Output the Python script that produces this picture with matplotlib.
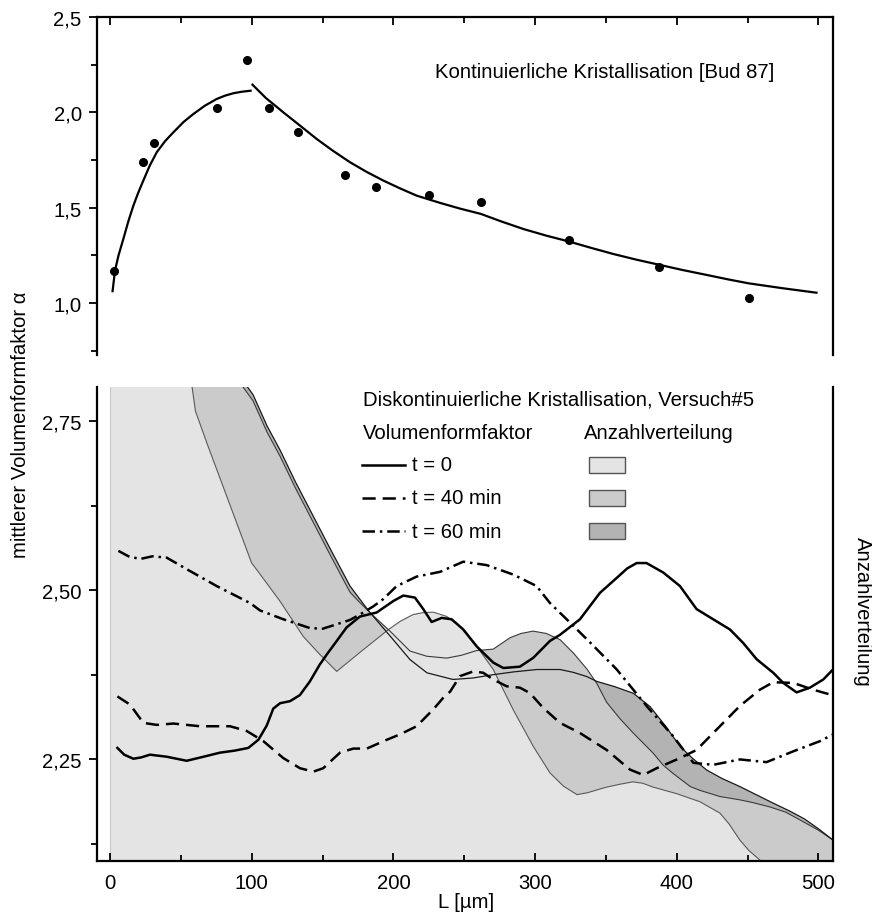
import matplotlib
matplotlib.use("Agg")
import matplotlib.pyplot as plt
from matplotlib.patches import Rectangle
from matplotlib.lines import Line2D
from matplotlib.ticker import FixedLocator, FuncFormatter

plt.rcParams['font.family'] = ['Liberation Sans', 'DejaVu Sans']
plt.rcParams['lines.scale_dashes'] = False

# ---------------- top panel data (continuous crystallisation) ----------------
pts_x = [3.1, 23, 31, 75.5, 96.9, 112, 132.9, 165.8, 187.5, 224.9, 261.8, 324.1, 387.2, 450.7]
pts_y = [1.166, 1.738, 1.838, 2.021, 2.276, 2.024, 1.895, 1.673, 1.610, 1.565, 1.531, 1.332, 1.191, 1.026]

fit1_x = [1.7, 3.5, 6, 9.4, 13, 16.5, 20, 23.5, 28, 33, 39, 44.7, 52, 58.8, 67, 75.3, 81, 87, 93, 100]
fit1_y = [1.056, 1.170, 1.25, 1.336, 1.43, 1.511, 1.58, 1.642, 1.72, 1.791, 1.85, 1.895, 1.95, 1.991,
          2.035, 2.070, 2.087, 2.100, 2.108, 2.114]

fit2_x = [100, 110, 122.3, 135, 145.9, 157, 169.4, 181, 192.9, 205, 216.4, 232.9, 247, 261.8, 276,
          291.7, 308, 324.1, 340, 355.2, 371, 387.2, 404, 421.1, 436, 450.7, 475, 499.4]
fit2_y = [2.149, 2.075, 2.000, 1.925, 1.860, 1.800, 1.738, 1.688, 1.642, 1.600, 1.563, 1.525, 1.495,
          1.467, 1.428, 1.388, 1.353, 1.322, 1.288, 1.257, 1.228, 1.201, 1.173, 1.147, 1.124, 1.103,
          1.077, 1.053]

# ---------------- bottom panel: Volumenformfaktor ----------------
t0_x = [5.2, 10, 16.5, 22, 28.2, 40, 54.1, 66, 77.6, 88, 97.6, 104.7, 110.6, 115.2, 120, 127, 134,
        141, 148, 153, 160, 167, 176.4, 188.2, 200, 207, 215.2, 221.1, 227, 234.1, 241.1, 249.3,
        258.8, 270.5, 277.6, 289.3, 298.7, 310.5, 317.6, 331.7, 345.8, 357.6, 365, 371.7, 378.7,
        390.5, 402.3, 414, 425.7, 437.5, 446.9, 456.4, 468.1, 475.2, 484.6, 494, 503.4, 510.4]
t0_y = [2.267, 2.257, 2.251, 2.253, 2.257, 2.254, 2.248, 2.254, 2.260, 2.263, 2.267, 2.279, 2.300,
        2.325, 2.333, 2.336, 2.345, 2.365, 2.390, 2.405, 2.425, 2.445, 2.461, 2.467, 2.484, 2.492,
        2.489, 2.472, 2.453, 2.459, 2.457, 2.442, 2.417, 2.393, 2.385, 2.387, 2.400, 2.425, 2.434,
        2.457, 2.496, 2.518, 2.532, 2.540, 2.540, 2.526, 2.506, 2.472, 2.457, 2.442, 2.422, 2.398,
        2.378, 2.363, 2.349, 2.356, 2.368, 2.383]

t40_x = [5.2, 14.1, 23.5, 32.9, 44.7, 63.5, 84.7, 96.5, 108.2, 122.3, 134.1, 143.5, 150.5, 162.3,
         171.7, 181.2, 195.3, 204.7, 216.4, 228.2, 236, 240, 247, 256.4, 263.4, 270.5, 280, 289.3,
         296.4, 305.8, 317.6, 331.7, 350.5, 367, 376.4, 385.8, 402.3, 414, 428.1, 444.6, 458.7,
         468.1, 482.3, 496.3, 508.1]
t40_y = [2.343, 2.331, 2.304, 2.301, 2.303, 2.299, 2.299, 2.292, 2.277, 2.252, 2.237, 2.232, 2.237,
         2.260, 2.266, 2.266, 2.279, 2.287, 2.299, 2.324, 2.343, 2.350, 2.373, 2.380, 2.378, 2.368,
         2.358, 2.356, 2.348, 2.326, 2.304, 2.289, 2.264, 2.235, 2.227, 2.237, 2.252, 2.264, 2.294,
         2.329, 2.353, 2.364, 2.363, 2.353, 2.346]

t60_x = [5.9, 13, 21.2, 30, 40, 54.1, 75.3, 98.8, 105.9, 122.3, 141.1, 150, 157.6, 169.4, 176.4,
         185.8, 193, 202.3, 216.4, 232.9, 249.3, 265.8, 284.6, 301.1, 310.5, 322.3, 339.2, 357.6,
         378.7, 397.6, 411.7, 425.7, 444.6, 463.4, 482.3, 501.1, 510.4]
t60_y = [2.558, 2.550, 2.546, 2.550, 2.548, 2.531, 2.506, 2.481, 2.470, 2.457, 2.444, 2.443, 2.448,
         2.456, 2.464, 2.476, 2.487, 2.506, 2.520, 2.527, 2.542, 2.537, 2.523, 2.506, 2.481, 2.457,
         2.422, 2.383, 2.329, 2.284, 2.245, 2.242, 2.250, 2.246, 2.262, 2.277, 2.287]

# ---------------- bottom panel: Anzahlverteilung (arbitrary units, 0..100 visible) ----------------
nA_x = [0, 10, 20, 30, 40, 50, 57.9, 60.3, 68.2, 82.3, 99.9, 105.9, 120, 136.3, 148, 160, 178, 196.4,
        205, 214, 221, 228.2, 237.6, 247, 258.8, 270.5, 284.6, 298.7, 310.5, 320, 329.6, 337, 343.7,
        350.7, 360, 369, 376, 383.2, 400, 416.4, 430.5, 437, 444.6, 451, 458.7, 470, 490, 510]
nA_y = [600, 400, 280, 200, 150, 118, 100, 94.9, 88.3, 77.0, 62.9, 60.5, 54.8, 47.4, 43.6, 40.0, 44.4,
        48.8, 50.6, 52.0, 52.4, 52.5, 51.6, 49.5, 45.3, 40.4, 31.9, 24.2, 18.6, 15.8, 14.0, 14.4, 15.0,
        15.6, 16.2, 16.7, 16.4, 15.6, 14.2, 12.5, 10.1, 7.8, 4.4, 2.2, 0.2, -5, -15, -25]

nB_x = [0, 30, 60, 80, 93.9, 100.9, 110.8, 120, 131, 143, 155, 169.4, 176.4, 183.5, 197.6, 211.7,
        223.5, 237.6, 248, 258.8, 270.5, 282.3, 290, 298.6, 308, 317.6, 327, 336.6, 343.5, 350.5,
        360, 369.3, 383.2, 390.5, 397.3, 409.6, 416.4, 430.5, 444.6, 454, 465.8, 477, 488, 500, 510.4]
nB_y = [500, 280, 165, 120, 100, 97.1, 90.5, 85.4, 78.6, 71.7, 64.8, 56.7, 54.5, 52.4, 48.5, 44.3,
        43.2, 42.8, 43.4, 44.4, 44.7, 47.1, 48.0, 48.5, 48.0, 46.7, 43.9, 40.5, 37.5, 33.5, 30.0,
        27.0, 22.8, 20.2, 18.5, 15.7, 14.9, 13.6, 12.9, 12.3, 11.4, 10.3, 8.5, 6.5, 4.4]

nC_x = [0, 30, 60, 80, 93.9, 100.9, 110.8, 120, 131, 143, 155, 169.4, 176.4, 183.5, 197.6, 211.7,
        223.7, 242, 256, 270.3, 285, 301.3, 317.6, 327, 336.6, 343.5, 356, 369.3, 381.1, 392, 402.3,
        411, 421.1, 432, 444.6, 456, 468.1, 480, 490, 500, 510.4]
nC_y = [510, 285, 167, 121.5, 101.3, 98.4, 91.8, 86.7, 79.9, 73.0, 66.1, 58.0, 55.2, 52.4, 47.5,
        42.5, 39.7, 38.3, 38.6, 39.3, 39.9, 40.4, 40.4, 39.8, 38.9, 37.9, 36.8, 35.4, 32.6, 28.5,
        24.2, 21.7, 19.2, 17.4, 15.7, 14.0, 12.2, 10.5, 8.9, 6.8, 4.4]

x_major = [0, 100, 200, 300, 400, 500]
x_minor = [50, 150, 250, 350, 450]
top_yticks = [1.0, 1.5, 2.0, 2.5]
top_yminor = [0.75, 1.25, 1.75, 2.25]
bot_yticks = [2.25, 2.50, 2.75]
bot_yminor = [2.125, 2.375, 2.625]

legend_labels = ['t = 0', 't = 40 min', 't = 60 min']
fill_colors = ['#e4e4e4', '#cbcbcb', '#b3b3b3']

FS = 14.6
fig = plt.figure(figsize=(8.72, 9.2), dpi=100)

L, W = 97 / 872, 736 / 872
ax_top = fig.add_axes([L, 1 - 356 / 920, W, 338 / 920])
ax_bot = fig.add_axes([L, 1 - 862 / 920, W, 474 / 920])

XL = (-9.2, 510.3)

def comma(fmt):
    return FuncFormatter(lambda v, p: (fmt % v).replace('.', ','))

# ---------- top ----------
ax_top.plot(fit1_x, fit1_y, color='black', lw=1.6, solid_capstyle='butt')
ax_top.plot(fit2_x, fit2_y, color='black', lw=1.6, solid_capstyle='butt')
ax_top.plot(pts_x, pts_y, 'o', color='black', ms=5.5, mec='black')
ax_top.set_xlim(*XL)
ax_top.set_ylim(0.727, 2.5)
ax_top.spines['bottom'].set_visible(False)
for s in ['left', 'top', 'right']:
    ax_top.spines[s].set_linewidth(1.6)
ax_top.xaxis.set_major_locator(FixedLocator(x_major))
ax_top.xaxis.set_minor_locator(FixedLocator(x_minor))
ax_top.tick_params(axis='x', which='both', bottom=False, top=True, labelbottom=False,
                   labeltop=False, direction='in')
ax_top.tick_params(axis='x', which='major', length=6, width=1.3)
ax_top.tick_params(axis='x', which='minor', length=4, width=1.3)
ax_top.yaxis.set_major_locator(FixedLocator(top_yticks))
ax_top.yaxis.set_minor_locator(FixedLocator(top_yminor))
ax_top.yaxis.set_major_formatter(comma('%.1f'))
ax_top.tick_params(axis='y', which='both', left=True, right=False, direction='out',
                   labelsize=FS, pad=5)
ax_top.tick_params(axis='y', which='major', length=6, width=1.3)
ax_top.tick_params(axis='y', which='minor', length=4, width=1.3)
ax_top.text(0.459, 0.84, 'Kontinuierliche Kristallisation [Bud 87]', transform=ax_top.transAxes,
            fontsize=FS, ha='left', va='center')

# ---------- bottom ----------
ax2 = ax_bot.twinx()
ax2.set_ylim(0, 100)
ax2.set_yticks([])
for s in ax2.spines.values():
    s.set_visible(False)
ax2.fill_between(nC_x, nC_y, -100, color=fill_colors[2], lw=0, zorder=1)
ax2.fill_between(nB_x, nB_y, -100, color=fill_colors[1], lw=0, zorder=2)
ax2.fill_between(nA_x, nA_y, -100, color=fill_colors[0], lw=0, zorder=3)
ax2.plot([0, 0], [-100, nA_y[0]], color='#c8c8c8', lw=0.8, zorder=4)
ax2.plot(nA_x, nA_y, color='#5a5a5a', lw=0.8, zorder=4)
ax2.plot(nB_x, nB_y, color='#3a3a3a', lw=0.8, zorder=4)
ax2.plot(nC_x, nC_y, color='#1a1a1a', lw=0.9, zorder=4)
ax2.set_xlim(*XL)

ax_bot.set_zorder(ax2.get_zorder() + 1)
ax_bot.patch.set_visible(False)

LW = 1.8
dash = (0, (9.5, 5))
dashdot = (0, (9, 3.5, 1.8, 3.5))
ax_bot.plot(t0_x, t0_y, color='black', lw=LW, ls='-')
ax_bot.plot(t40_x, t40_y, color='black', lw=LW, ls=dash)
ax_bot.plot(t60_x, t60_y, color='black', lw=LW, ls=dashdot)
ax_bot.set_xlim(*XL)
ax_bot.set_ylim(2.1, 2.8)
ax_bot.spines['top'].set_visible(False)
for s in ['left', 'bottom', 'right']:
    ax_bot.spines[s].set_linewidth(1.6)
ax_bot.xaxis.set_major_locator(FixedLocator(x_major))
ax_bot.xaxis.set_minor_locator(FixedLocator(x_minor))
ax_bot.tick_params(axis='x', which='both', bottom=True, top=False, direction='in',
                   labelsize=FS, pad=9)
ax_bot.tick_params(axis='x', which='major', length=6, width=1.3)
ax_bot.tick_params(axis='x', which='minor', length=4, width=1.3)
ax_bot.yaxis.set_major_locator(FixedLocator(bot_yticks))
ax_bot.yaxis.set_minor_locator(FixedLocator(bot_yminor))
ax_bot.yaxis.set_major_formatter(comma('%.2f'))
ax_bot.tick_params(axis='y', which='both', left=True, right=False, direction='out',
                   labelsize=FS, pad=5)
ax_bot.tick_params(axis='y', which='major', length=6, width=1.3)
ax_bot.tick_params(axis='y', which='minor', length=4, width=1.3)

# legend block
T = ax_bot.transAxes
ax_bot.text(0.361, 0.975, 'Diskontinuierliche Kristallisation, Versuch#5', transform=T,
            fontsize=FS, ha='left', va='center')
ax_bot.text(0.361, 0.905, 'Volumenformfaktor', transform=T, fontsize=FS, ha='left', va='center')
ax_bot.text(0.662, 0.905, 'Anzahlverteilung', transform=T, fontsize=FS, ha='left', va='center')
row_y = [0.836, 0.766, 0.696]
styles = ['-', dash, dashdot]
for yy, st, lab, fc in zip(row_y, styles, legend_labels, fill_colors):
    ax_bot.add_line(Line2D([0.360, 0.418], [yy, yy], transform=T, color='black', lw=LW, ls=st))
    ax_bot.text(0.428, yy, lab, transform=T, fontsize=FS, ha='left', va='center')
    ax_bot.add_patch(Rectangle((0.668, yy - 0.017), 0.049, 0.034, transform=T,
                               facecolor=fc, edgecolor='#555555', lw=1.0))

fig.text(466 / 872, 1 - 903 / 920, 'L [µm]', fontsize=FS, ha='center', va='center')
fig.text(21 / 872, 1 - 425 / 920, 'mittlerer Volumenformfaktor α', fontsize=FS,
         rotation=90, ha='center', va='center')
fig.text(862 / 872, 1 - 612 / 920, 'Anzahlverteilung', fontsize=FS, rotation=-90,
         ha='center', va='center')

fig.savefig('out.png', dpi=100)
